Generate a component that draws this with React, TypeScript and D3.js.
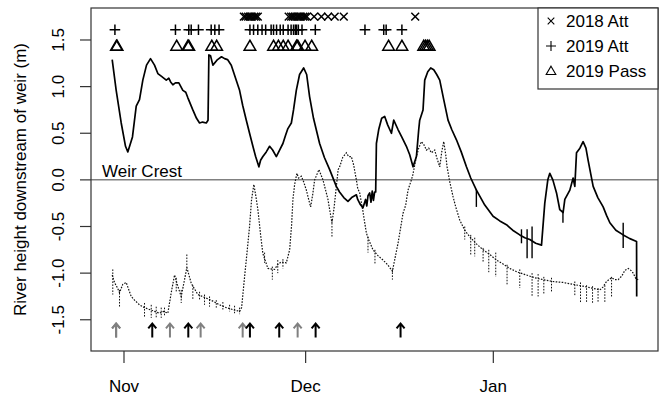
import * as d3 from 'd3';

const W = 662;
const H = 398;
const plot = { left: 91, right: 658, top: 8, bottom: 351 };
const FONT = "'Liberation Sans', Arial, sans-serif";

// x is days since 1 Nov
const monthDays = [0, 30, 61];
const monthLabels = ['Nov', 'Dec', 'Jan'];
const levelTicks = [-1.5, -1.0, -0.5, 0.0, 0.5, 1.0, 1.5];

// solid trace: [day, height m]
const solidLevel: [number, number][] = [
  [-1.95, 1.29], [-1.29, 0.96], [-0.46, 0.61], [0.25, 0.36], [0.63, 0.3], [1.4, 0.46], [2.02, 0.79],
  [2.56, 0.86], [3.11, 1.07], [3.72, 1.23], [4.38, 1.3], [5.04, 1.23], [5.59, 1.14], [6.2, 1.11],
  [6.98, 1.07], [7.4, 1.09], [7.7, 1.05], [8.07, 1.02], [8.5, 1.04], [9.06, 1.04], [9.72, 0.96],
  [10.2, 0.94], [10.55, 0.88], [11.37, 0.75], [11.98, 0.66], [12.48, 0.61], [12.98, 0.62], [13.59, 0.61],
  [13.88, 0.64], [14.02, 1.34], [14.3, 1.33], [14.68, 1.23], [15.45, 1.29], [16.1, 1.32], [16.61, 1.3],
  [17.1, 1.29], [17.72, 1.23], [18.43, 1.09], [19.09, 0.96], [19.6, 0.8], [20.2, 0.64], [20.74, 0.5],
  [21.29, 0.36], [21.74, 0.25], [22.28, 0.14], [22.56, 0.21], [22.94, 0.25], [23.5, 0.3], [24.05, 0.36],
  [24.55, 0.32], [25.16, 0.25], [25.7, 0.32], [26.25, 0.39], [26.7, 0.48], [27.07, 0.55], [27.64, 0.61],
  [28.0, 0.75], [28.46, 0.96], [29.0, 1.13], [29.67, 1.2], [30.17, 1.13], [30.66, 0.89], [31.3, 0.66],
  [32.31, 0.39], [33.1, 0.24], [33.97, 0.11], [35.07, -0.07], [35.6, -0.13], [36.3, -0.19], [36.99, -0.23],
  [37.6, -0.19], [38.38, -0.16], [38.6, -0.21], [39.0, -0.26], [39.47, -0.3], [39.9, -0.21], [40.1, -0.28],
  [40.3, -0.17], [40.58, -0.14], [40.8, -0.24], [41.0, -0.12], [41.2, -0.22], [41.4, -0.13], [41.57, -0.13],
  [41.69, 0.39], [42.07, 0.54], [42.56, 0.66], [43.06, 0.68], [43.55, 0.59], [44.17, 0.5], [44.55, 0.64],
  [45.26, 0.54], [45.87, 0.46], [46.64, 0.36], [47.19, 0.27], [47.74, 0.14], [48.3, 0.25], [48.68, 0.54],
  [48.84, 0.64], [49.39, 0.75], [49.67, 1.07], [50.17, 1.16], [50.66, 1.2], [51.16, 1.18], [51.65, 1.13],
  [52.15, 1.07], [52.81, 0.86], [53.52, 0.64], [54.13, 0.54], [54.91, 0.43], [55.7, 0.3], [56.56, 0.14],
  [57.27, 0.02], [58.21, -0.11], [59.59, -0.27], [60.96, -0.39], [62.07, -0.44], [63.17, -0.48],
  [64.2, -0.54], [65.37, -0.59], [66.2, -0.62], [67.02, -0.64], [68.0, -0.68], [68.96, -0.7], [69.5, -0.25],
  [70.0, 0.0], [70.33, 0.07], [70.83, 0.0], [71.44, -0.14], [71.98, -0.32], [72.53, -0.35], [72.81, -0.21],
  [73.64, -0.11], [74.18, 0.02], [74.46, -0.07], [74.74, 0.29], [75.3, 0.34], [75.83, 0.41], [76.3, 0.34],
  [76.66, 0.21], [77.49, -0.07], [78.26, -0.19], [79.14, -0.29], [79.7, -0.38], [80.25, -0.46],
  [81.24, -0.54], [82.45, -0.59], [83.55, -0.63], [84.66, -0.66], [84.68, -1.25],
];

// dotted trace: [day, height m]
const dottedLevel: [number, number][] = [
  [-1.95, -1.02], [-1.57, -1.1], [-1.07, -1.16], [-0.74, -1.21], [-0.2, -1.12], [0.36, -1.1], [1.19, -1.25],
  [1.74, -1.29], [2.56, -1.34], [3.39, -1.37], [4.21, -1.39], [5.04, -1.41], [5.87, -1.43], [6.5, -1.41],
  [7.24, -1.43], [7.8, -1.21], [8.35, -1.02], [8.89, -1.14], [9.45, -1.25], [10.0, -1.07], [10.38, -0.94],
  [11.11, -1.11], [12.2, -1.23], [13.3, -1.26], [14.68, -1.3], [15.79, -1.34], [16.89, -1.37], [17.93, -1.39],
  [19.09, -1.41], [19.42, -1.37], [19.92, -1.04], [20.74, -0.5], [21.07, -0.21], [21.45, -0.05],
  [21.74, -0.16], [22.12, -0.32], [22.56, -0.59], [22.94, -0.79], [23.77, -0.95], [24.88, -0.96],
  [25.37, -0.91], [25.98, -0.88], [26.81, -0.89], [27.36, -0.75], [27.69, -0.48], [27.9, -0.21],
  [28.18, -0.05], [28.56, 0.07], [28.84, 0.02], [29.29, 0.04], [29.67, -0.02], [30.12, -0.11], [30.5, -0.21],
  [30.83, -0.29], [31.16, -0.16], [31.49, 0.0], [32.2, 0.11], [32.86, 0.0], [33.3, -0.11], [33.69, -0.21],
  [33.97, -0.32], [34.35, -0.46], [34.7, -0.3], [35.07, -0.07], [35.37, 0.11], [35.62, 0.14], [36.12, 0.24],
  [36.73, 0.29], [37.11, 0.25], [37.55, 0.25], [37.93, 0.16], [38.38, 0.0], [38.6, -0.09], [38.93, -0.14],
  [39.42, -0.32], [40.03, -0.57], [40.41, -0.64], [41.12, -0.75], [41.9, -0.81], [42.78, -0.86],
  [43.55, -0.91], [44.33, -0.98], [44.7, -0.86], [45.26, -0.68], [45.7, -0.51], [46.08, -0.36],
  [46.53, -0.27], [46.91, -0.11], [47.47, 0.0], [47.69, 0.05], [48.3, 0.25], [48.68, 0.34], [49.12, 0.41],
  [49.5, 0.38], [49.95, 0.32], [50.33, 0.34], [50.78, 0.29], [51.32, 0.32], [51.65, 0.24], [52.15, 0.14],
  [52.48, 0.3], [52.81, 0.41], [53.14, 0.27], [53.36, 0.14], [53.8, -0.02], [54.35, -0.18], [54.79, -0.29],
  [55.45, -0.43], [56.28, -0.54], [57.11, -0.61], [58.1, -0.68], [59.31, -0.75], [60.41, -0.8],
  [61.52, -0.86], [62.56, -0.9], [63.72, -0.95], [65.04, -0.99], [66.48, -1.02], [67.85, -1.05],
  [69.22, -1.07], [70.83, -1.09], [72.53, -1.1], [74.13, -1.12], [75.83, -1.14], [77.27, -1.16],
  [78.6, -1.18], [79.1, -1.15], [79.7, -1.09], [80.53, -1.05], [81.07, -1.07], [81.62, -1.07],
  [82.23, -1.03], [82.73, -0.97], [83.27, -0.95], [83.72, -0.97], [84.1, -1.0], [84.55, -1.06], [84.93, -1.07],
];

// short drops in the records: [day, from, to]
const solidSpikes: [number, number, number][] = [
  [58.2, -0.1, -0.29], [65.65, -0.53, -0.68], [66.58, -0.53, -0.84], [67.4, -0.5, -0.84],
  [72.5, -0.33, -0.46], [82.45, -0.46, -0.73],
];
const dottedSpikes: [number, number, number][] = [
  [-1.85, -0.96, -1.23], [-0.74, -1.18, -1.36], [3.39, -1.32, -1.47], [4.5, -1.34, -1.48],
  [5.32, -1.36, -1.48], [6.15, -1.37, -1.48], [6.69, -1.37, -1.46], [8.63, -1.05, -1.21],
  [9.45, -1.18, -1.32], [10.38, -0.8, -0.96], [11.37, -1.13, -1.29], [12.48, -1.2, -1.29],
  [13.3, -1.23, -1.34], [14.13, -1.25, -1.36], [15.24, -1.29, -1.37], [16.33, -1.31, -1.39],
  [17.44, -1.34, -1.41], [18.26, -1.35, -1.43], [19.09, -1.37, -1.44], [23.22, -0.78, -0.89],
  [24.5, -0.93, -1.07], [25.4, -0.86, -1.0], [26.25, -0.85, -0.95], [34.35, -0.43, -0.62],
  [40.3, -0.61, -0.78], [41.45, -0.75, -0.91], [44.33, -0.96, -1.07], [56.28, -0.5, -0.64],
  [57.27, -0.59, -0.8], [57.93, -0.62, -0.82], [59.31, -0.73, -0.89], [60.25, -0.75, -0.99],
  [61.4, -0.78, -1.04], [63.27, -0.91, -1.13], [65.37, -0.96, -1.16], [67.4, -1.0, -1.25],
  [68.4, -1.01, -1.25], [69.34, -1.04, -1.23], [70.61, -1.05, -1.2], [74.46, -1.09, -1.25],
  [75.4, -1.1, -1.32], [76.4, -1.13, -1.32], [77.39, -1.14, -1.32], [78.3, -1.16, -1.32],
  [79.42, -1.13, -1.32], [80.53, -1.04, -1.26],
];

// fish events (days)
const att2018 = [
  19.8, 20.1, 20.5, 20.8, 21.1, 21.5, 21.8, 22.1, 27.2, 27.6, 27.9, 28.2, 28.6, 28.9, 29.2, 29.6, 29.9,
  30.2, 31.4, 32.6, 33.7, 34.8, 36.3, 48.1,
];
const att2019 = [
  -1.5, 8.5, 10.7, 11.1, 12.3, 14.4, 15.0, 15.7, 20.8, 21.4, 22.1, 22.8, 23.4, 24.3, 24.7, 25.2, 25.8,
  26.3, 27.1, 27.6, 28.0, 28.3, 28.5, 28.8, 29.4, 31.6, 39.8, 42.9, 43.3, 45.9,
];
const pass2019 = [
  -1.25, -1.15, 8.7, 10.55, 10.7, 14.5, 15.3, 20.8, 24.7, 25.5, 26.3, 27.1, 28.5, 28.7, 29.9, 31.0,
  43.7, 45.9, 49.5, 49.8, 50.1, 50.4,
];
const greyArrows = [-1.32, -1.28, 7.59, 12.66, 19.6, 28.68];
const blackArrows = [4.67, 10.62, 20.8, 25.64, 31.65, 45.68];

const legendLabels = ['2018 Att', '2019 Att', '2019 Pass'];

export default function App() {
  const x = d3.scaleLinear().domain([-5.45, 88.2]).range([plot.left, plot.right]);
  const y = d3.scaleLinear().domain([-1.835, 1.843]).range([plot.bottom, plot.top]);

  const line = d3
    .line<[number, number]>()
    .x((d) => x(d[0]))
    .y((d) => y(d[1]));

  const cross = (cx: number, cy: number, r = 3.9) =>
    `M${cx - r},${cy - r}L${cx + r},${cy + r}M${cx - r},${cy + r}L${cx + r},${cy - r}`;
  const plus = (cx: number, cy: number, r = 5.3) => `M${cx - r},${cy}L${cx + r},${cy}M${cx},${cy - r}L${cx},${cy + r}`;
  const tri = (cx: number, cy: number, r = 5.8) =>
    `M${cx},${cy - r}L${cx + r},${cy + r * 0.72}L${cx - r},${cy + r * 0.72}Z`;
  const arrow = (d: number) => {
    const ax = x(d);
    const y0 = y(-1.69);
    const y1 = y(-1.54);
    return `M${ax},${y0}L${ax},${y1}M${ax - 4},${y1 + 5}L${ax},${y1}L${ax + 4},${y1 + 5}`;
  };

  const legendX = 538;
  const legendRows = [21, 46, 71];

  return (
    <svg width={W} height={H} style={{ position: 'absolute', left: 0, top: 0, background: '#fff' }} fontFamily={FONT}>
      {/* weir crest */}
      <line x1={plot.left} x2={plot.right} y1={y(0)} y2={y(0)} stroke="#808080" strokeWidth={1.5} />
      <text x={102} y={y(0) - 3} fontSize={17}>
        Weir Crest
      </text>

      {/* level traces */}
      <path d={line(dottedLevel) ?? ''} fill="none" stroke="#111" strokeWidth={1.2} strokeDasharray="1.6,1.4" />
      {dottedSpikes.map(([d, a, b], i) => (
        <line key={`ds${i}`} x1={x(d)} x2={x(d)} y1={y(a)} y2={y(b)} stroke="#111" strokeWidth={1} strokeDasharray="1.6,1.4" />
      ))}
      <path d={line(solidLevel) ?? ''} fill="none" stroke="#000" strokeWidth={1.7} strokeLinejoin="round" />
      {solidSpikes.map(([d, a, b], i) => (
        <line key={`ss${i}`} x1={x(d)} x2={x(d)} y1={y(a)} y2={y(b)} stroke="#000" strokeWidth={1.4} />
      ))}

      {/* fish events */}
      {att2018.map((d, i) => (
        <path key={`a18${i}`} d={cross(x(d), y(1.75))} stroke="#000" strokeWidth={1.5} fill="none" />
      ))}
      {att2019.map((d, i) => (
        <path key={`a19${i}`} d={plus(x(d), y(1.61))} stroke="#000" strokeWidth={1.5} fill="none" />
      ))}
      {pass2019.map((d, i) => (
        <path key={`p19${i}`} d={tri(x(d), y(1.435))} stroke="#000" strokeWidth={1.5} fill="none" />
      ))}
      {greyArrows.map((d, i) => (
        <path key={`ga${i}`} d={arrow(d)} stroke="#808080" strokeWidth={2} fill="none" />
      ))}
      {blackArrows.map((d, i) => (
        <path key={`ba${i}`} d={arrow(d)} stroke="#000" strokeWidth={2} fill="none" />
      ))}

      {/* box */}
      <rect
        x={plot.left}
        y={plot.top}
        width={plot.right - plot.left}
        height={plot.bottom - plot.top}
        fill="none"
        stroke="#333"
        strokeWidth={1.2}
      />

      {/* y axis */}
      {levelTicks.map((t) => (
        <g key={`yt${t}`}>
          <line x1={plot.left - 11} x2={plot.left} y1={y(t)} y2={y(t)} stroke="#333" strokeWidth={1.2} />
          <text transform={`translate(64,${y(t)}) rotate(-90)`} textAnchor="middle" fontSize={17}>
            {t.toFixed(1)}
          </text>
        </g>
      ))}
      <text
        transform={`translate(26,${(plot.top + plot.bottom) / 2}) rotate(-90)`}
        textAnchor="middle"
        fontSize={17}
      >
        River height downstream of weir (m)
      </text>

      {/* x axis */}
      {monthDays.map((d, i) => (
        <g key={`xt${d}`}>
          <line x1={x(d)} x2={x(d)} y1={plot.bottom} y2={plot.bottom + 12} stroke="#333" strokeWidth={1.2} />
          <text x={x(d)} y={392} textAnchor="middle" fontSize={17}>
            {monthLabels[i]}
          </text>
        </g>
      ))}

      {/* legend */}
      <rect
        x={legendX}
        y={plot.top}
        width={plot.right - legendX}
        height={89 - plot.top}
        fill="#fff"
        stroke="#333"
        strokeWidth={1.2}
      />
      <path d={cross(551, legendRows[0], 3.3)} stroke="#000" strokeWidth={1.1} fill="none" />
      <path d={plus(551, legendRows[1], 5)} stroke="#000" strokeWidth={1.1} fill="none" />
      <path d={tri(551, legendRows[2], 4.8)} stroke="#000" strokeWidth={1.1} fill="none" />
      {legendLabels.map((l, i) => (
        <text key={l} x={566} y={legendRows[i] + 6} fontSize={17}>
          {l}
        </text>
      ))}
    </svg>
  );
}
